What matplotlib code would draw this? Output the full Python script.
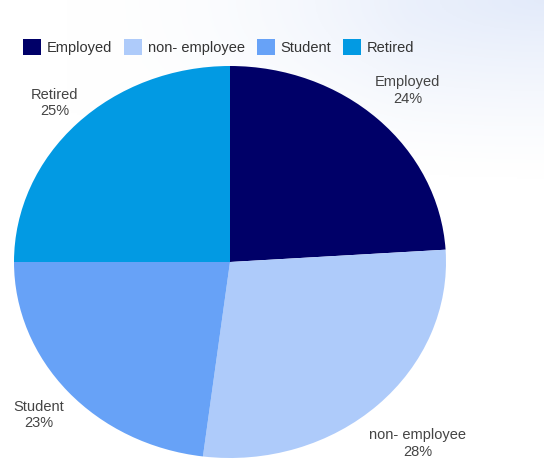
import matplotlib.pyplot as plt
import numpy as np
from matplotlib.patches import Patch

labels = ['Employed', 'non- employee', 'Student', 'Retired']
shares = [24, 28, 23, 25]
colors = ['#000068', '#aecbfa', '#67a2f7', '#029ae3']

plt.rcParams['font.family'] = ['Liberation Sans', 'DejaVu Sans']

fig = plt.figure(figsize=(5.44, 4.59), dpi=100)

# faint bluish wash in the upper right corner
bg = fig.add_axes([0, 0, 1, 1], zorder=-1)
xx, yy = np.meshgrid(np.linspace(0, 1, 272), np.linspace(0, 1, 230))
w = np.clip(1 - np.hypot((1 - xx) * 0.9, yy * 2.6), 0, 1) ** 1.3
w = w * np.clip(xx * 1.6 - 0.2, 0, 1)
img = np.ones((230, 272, 3))
img[..., 0] -= w * 0.11
img[..., 1] -= w * 0.08
img[..., 2] -= w * 0.02
bg.imshow(img, extent=(0, 1, 0, 1), origin='upper', aspect='auto')
bg.axis('off')

ax = fig.add_axes([14 / 544, 1 / 459, 432 / 544, 392 / 459])
wedges, _ = ax.pie(shares, colors=colors, startangle=90, counterclock=False,
                   wedgeprops={'linewidth': 0})
ax.set_aspect('auto')
ax.set_xlim(-1, 1)
ax.set_ylim(-1, 1)

dist = [1.2, 1.27, 1.18, 1.15]
for wd, lab, val, d in zip(wedges, labels, shares, dist):
    mid = np.deg2rad((wd.theta1 + wd.theta2) / 2)
    ax.text(d * np.cos(mid), d * np.sin(mid), f'{lab}\n{val}%',
            ha='center', va='center', fontsize=10.5, color='#444444',
            linespacing=1.2, clip_on=False)

handles = [Patch(facecolor=c, edgecolor='none') for c in colors]
fig.legend(handles, labels, loc='center left', bbox_to_anchor=(0.042, 1 - 47 / 459),
           ncol=4, frameon=False, fontsize=10.5, handlelength=1.25, handleheight=1.25,
           handletextpad=0.4, columnspacing=0.8, borderaxespad=0, borderpad=0,
           labelcolor='#333333')

fig.savefig('out.png', dpi=100)
